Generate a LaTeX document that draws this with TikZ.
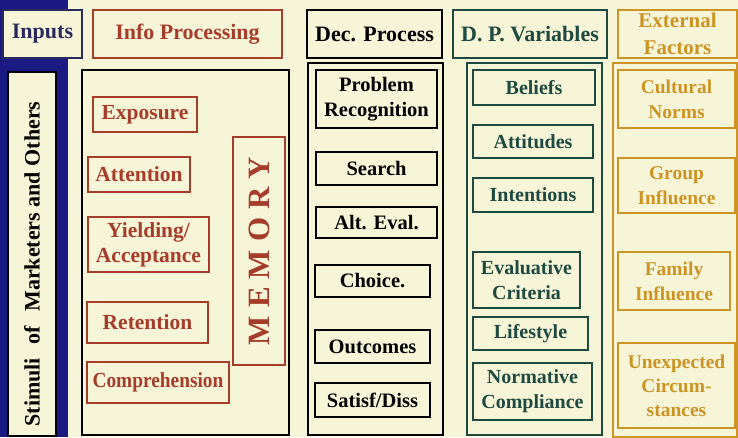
\documentclass[tikz,border=0pt]{standalone}
\usepackage{fontspec}
\setmainfont{Liberation Serif}
\definecolor{bgc}{HTML}{F7F5D8}
\definecolor{navyc}{HTML}{1A1A82}
\definecolor{inkc}{HTML}{2A2A5E}
\definecolor{redc}{HTML}{A63C2A}
\definecolor{dpc}{HTML}{1F4A40}
\definecolor{goldc}{HTML}{CC9424}
\begin{document}
\begin{tikzpicture}[x=1pt,y=-1pt,
  bx/.style 2 args={draw,inner sep=0pt,minimum width=#1pt,minimum height=#2pt,align=center},
  fs/.style={font=\bfseries\fontsize{#1}{25}\selectfont},
  ipc/.style={redc,line width=1.4pt,text=redc,fs=21.5},
  dcc/.style={black,line width=1.8pt,text=black,fs=20.5},
  dvc/.style={dpc,line width=1.4pt,text=dpc,fs=20},
  exc/.style={goldc,line width=1.4pt,text=goldc,fs=19.5},
  hdr/.style={fs=22},
  bigbox/.style={line width=2.2pt}
]
\useasboundingbox (0,0) rectangle (738,437);
\fill[bgc] (0,0) rectangle (738,437);
\fill[navyc] (0,0) rectangle (68,437);

% Inputs column
\node[bx={79}{48},fill=bgc,draw=inkc,line width=1.2pt,text=inkc,hdr] (inputs) at (42.5,34) {Inputs};
\node[bx={48}{364},fill=bgc,draw=black,line width=1.6pt,fs=20,text=black] (stimbox) at (32,254) {};
\node[rotate=90,font=\bfseries\fontsize{22}{24}\selectfont] (stim) at (32,264) {Stimuli\hspace{14pt}of\hspace{14pt}Marketers and Others};

% Info processing
\node[bx={189}{48},ipc,hdr] (iph) at (187.5,34) {Info Processing};
\node[bx={207}{365},draw=black,bigbox] (ipbig) at (185.5,252.5) {};
\node[bx={104}{35},ipc] (exposure) at (145,114.5) {Exposure};
\node[bx={102}{35},ipc] (attention) at (139,174.5) {Attention};
\node[bx={121}{55},ipc] (yielding) at (148.5,244.5) {Yielding/\\Acceptance};
\node[bx={121}{41},ipc] (retention) at (147.5,322.5) {Retention};
\node[bx={142}{41},ipc] (compr) at (158,382.5) {\scalebox{0.9}[1]{Comprehension}};
\node[bx={52}{228},ipc] (memorybox) at (259,251) {};
\node[rotate=90,text=redc,font=\bfseries\fontsize{31}{32}\selectfont] (memory) at (259,251) {M\hspace{8pt}E\hspace{8pt}M\hspace{8pt}O\hspace{8pt}R\hspace{8pt}Y};

% Decision process
\node[bx={135}{48},dcc,hdr] (dph) at (374.5,34) {Dec. Process};
\node[bx={135}{372},draw=black,bigbox] (dpbig) at (375.5,249) {};
\node[bx={121}{58},dcc] (prob) at (376.5,99) {Problem\\Recognition};
\node[bx={121}{33},dcc] (search) at (376.5,168.5) {Search};
\node[bx={121}{31},dcc] (alteval) at (376.5,222.5) {Alt. Eval.};
\node[bx={115}{32},dcc] (choice) at (372.5,281) {Choice.};
\node[bx={115}{33},dcc] (outcomes) at (372.5,346.5) {Outcomes};
\node[bx={115}{34},dcc] (satisf) at (372.5,400) {Satisf/Diss};

% D. P. Variables
\node[bx={154}{48},dvc,hdr] (dvh) at (530,34) {D. P. Variables};
\node[bx={135}{372},draw=dpc,line width=1.6pt] (dvbig) at (534.5,249) {};
\node[bx={122}{35},dvc] (beliefs) at (534,87.5) {Beliefs};
\node[bx={120}{33},dvc] (attitudes) at (533,141.5) {Attitudes};
\node[bx={120}{34},dvc] (intentions) at (533,195) {Intentions};
\node[bx={107}{56},dvc] (evaluative) at (526.5,280) {Evaluative\\Criteria};
\node[bx={115}{33},dvc] (lifestyle) at (530.5,333.5) {Lifestyle};
\node[bx={119}{57},dvc] (normative) at (532.5,391.5) {Normative\\Compliance};

% External factors
\node[bx={119}{48},exc,font=\bfseries\fontsize{21}{27}\selectfont] (exh) at (677.5,34) {External\\Factors};
\node[bx={124}{374},draw=goldc,line width=1.6pt] (exbig) at (675,250) {};
\node[bx={117}{58},exc] (cultural) at (676.5,99) {Cultural\\Norms};
\node[bx={117}{55},exc] (group) at (676.5,185.5) {Group\\Influence};
\node[bx={112}{58},exc] (family) at (674,281) {Family\\Influence};
\node[bx={117}{85},exc,font=\bfseries\fontsize{19.5}{24}\selectfont] (unexp) at (676.5,385.5) {Unexpected\\Circum-\\stances};
\end{tikzpicture}
\end{document}
